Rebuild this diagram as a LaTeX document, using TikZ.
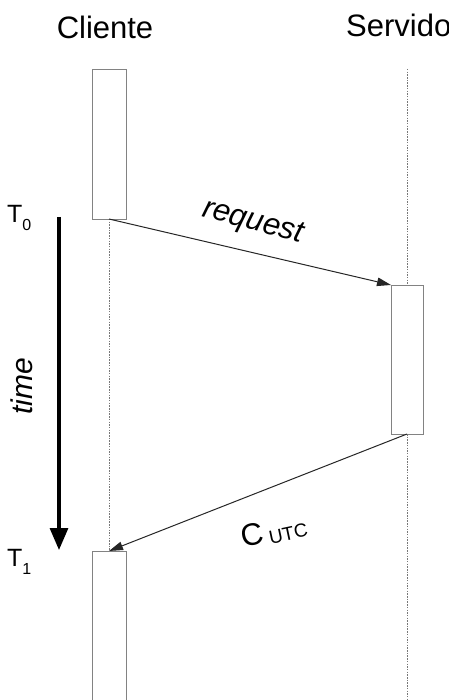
\documentclass[tikz,border=0pt]{standalone}
\usepackage{fontspec}
\setmainfont{Liberation Sans}
\usetikzlibrary{arrows.meta}
\definecolor{boxgray}{RGB}{130,130,130}
\definecolor{linegray}{RGB}{120,120,120}
\begin{document}
\begin{tikzpicture}[x=1pt,y=-1pt,
  actbox/.style={draw=boxgray,line width=0.9pt,fill=white,minimum width=34pt,inner sep=0pt,outer sep=0pt},
  lifeline/.style={draw=linegray,line width=0.9pt,dash pattern=on 1.5pt off 1.2pt},
  msg/.style={draw=black!85,line width=1pt,-{Triangle[length=14pt,width=8.5pt]}},
  lbl/.style={inner sep=0pt,font=\fontsize{31}{36}\selectfont},
  tlbl/.style={inner sep=0pt,font=\fontsize{25}{30}\selectfont}]
\useasboundingbox (0,0) rectangle (448,700);
\fill[white] (0,0) rectangle (448,700);
% headers
\node[lbl] (cli) at (105,27) {Cliente};
\node[lbl,anchor=base west] (srvt) at (346,37) {Servidor};
% activation boxes
\node[actbox,minimum height=150pt] (b1) at (109,144) {};
\node[actbox,minimum width=32pt,minimum height=149pt] (sb) at (407,359.5) {};
\node[actbox,minimum height=170pt] (b2) at (109,636) {};
% lifelines
\coordinate (stop) at (407,69);
\coordinate (sbot) at (407,702);
\draw[lifeline] (b1.south) -- (b2.north);
\draw[lifeline] (stop) -- (sb.north);
\draw[lifeline] (sb.south) -- (sbot);
% messages
\draw[msg] (b1.south) -- (sb.north west);
\draw[msg] (sb.south) -- (b2.north);
\node[lbl,rotate=-15,font=\fontsize{31}{36}\selectfont\itshape] (req) at (253,223) {request};
\node[lbl,rotate=12,anchor=base west] (cutc) at (243,548) {C\,\raisebox{-2pt}{\fontsize{19}{22}\selectfont UTC}};
% time arrow
\coordinate (ta) at (59,217);
\coordinate (tb) at (59,550);
\draw[line width=3.2pt,-{Triangle[length=22pt,width=18pt]}] (ta) -- (tb);
\node[lbl,rotate=90,font=\fontsize{30}{34}\selectfont\itshape] (time) at (22,386) {time};
\node[tlbl,anchor=base west] (t0) at (7,223) {T\raisebox{-8pt}{\fontsize{16}{19}\selectfont 0}};
\node[tlbl,anchor=base west] (t1) at (7,566) {T\raisebox{-8pt}{\fontsize{16}{19}\selectfont 1}};
\end{tikzpicture}
\end{document}
